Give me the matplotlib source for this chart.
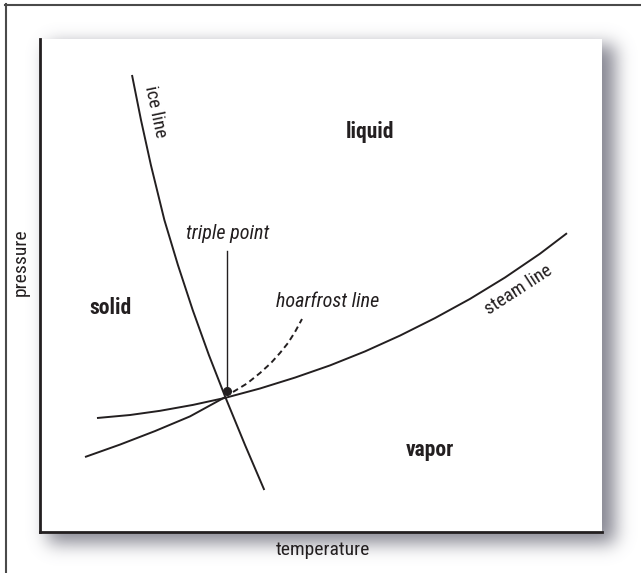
import numpy as np
import matplotlib
matplotlib.use("Agg")
import matplotlib.pyplot as plt
from matplotlib import font_manager

INK = "#231f20"

# phase boundaries (temperature, pressure in arbitrary units 0-100)
ice_t = [16.37, 17.97, 19.73, 22.13, 24.54, 27.17, 30.05, 32.97, 36.48, 39.91]
ice_p = [92.70, 83.57, 74.44, 63.29, 54.16, 45.03, 35.90, 27.38, 17.65, 8.52]

steam_t = [10.14, 16.01, 21.35, 27.22, 32.92, 39.15, 45.37, 51.60, 57.83, 64.06,
           70.28, 76.51, 82.74, 88.97, 93.77]
steam_p = [23.12, 23.73, 24.58, 25.78, 27.20, 29.11, 31.32, 33.79, 36.63, 39.84,
           43.39, 47.28, 51.62, 56.45, 60.61]

frost_t = [8.01, 14.23, 20.46, 26.69, 32.92]
frost_p = [15.21, 17.73, 20.47, 23.45, 27.34]

hoar_t = [34.34, 36.83, 39.15, 41.10, 42.70, 44.13, 45.37, 46.62]
hoar_p = [28.40, 30.12, 32.25, 34.28, 36.31, 38.34, 40.57, 43.20]

triple_t, triple_p = 33.3, 28.6
triple_label_p = 57.0

# pick a narrow sans if one is installed
installed = {f.name for f in font_manager.fontManager.ttflist}
narrow = [n for n in ("Roboto Condensed", "Liberation Sans Narrow",
                      "DejaVu Sans Condensed", "Open Sans Condensed")
          if n in installed]
FONT = narrow[:1] + ["DejaVu Sans"]

W, H, DPI = 641, 573, 100
fig = plt.figure(figsize=(W / DPI, H / DPI), dpi=DPI)

# background layer: frame lines and drop shadow behind the plot box
bg = fig.add_axes([0, 0, 1, 1])
bg.set_xlim(0, W)
bg.set_ylim(H, 0)
bg.axis("off")

box = (40, 39, 602, 532)  # left, top, right, bottom in pixels
yy, xx = np.mgrid[0:H, 0:W]
mask = ((xx >= box[0] + 8) & (xx <= box[2] + 12) &
        (yy >= box[1] + 6) & (yy <= box[3] + 10)).astype(float)
sigma = 9.0
k = np.arange(-35, 36)
g = np.exp(-k**2 / (2 * sigma**2))
g /= g.sum()
blur = np.apply_along_axis(lambda r: np.convolve(r, g, mode="same"), 1, mask)
blur = np.apply_along_axis(lambda c: np.convolve(c, g, mode="same"), 0, blur)
shadow = np.zeros((H, W, 4))
shadow[..., 0] = 0.46
shadow[..., 1] = 0.46
shadow[..., 2] = 0.51
shadow[..., 3] = blur * 0.88
bg.imshow(shadow, extent=(0, W, H, 0), interpolation="bilinear", zorder=0)

bg.plot([5, W], [4.5, 4.5], color="#4a4a4a", lw=1.5, zorder=2)
bg.plot([5.5, 5.5], [4, H], color="#4a4a4a", lw=1.5, zorder=2)

bg.text(323, 550, "temperature", family=FONT, fontsize=14, color=INK,
        ha="center", va="center")
bg.text(21, 262, "pressure", family=FONT, fontsize=14, color=INK,
        ha="center", va="center", rotation=90)

# main plot box
ax = fig.add_axes([box[0] / W, 1 - box[3] / H,
                   (box[2] - box[0]) / W, (box[3] - box[1]) / H])
ax.set_facecolor("white")
ax.set_xlim(0, 100)
ax.set_ylim(0, 100)
for side in ("top", "right"):
    ax.spines[side].set_visible(False)
for side in ("left", "bottom"):
    ax.spines[side].set_linewidth(2.0)
    ax.spines[side].set_color(INK)
ax.set_xticks([])
ax.set_yticks([])

lw = 1.4
ax.plot(ice_t, ice_p, color=INK, lw=lw, solid_capstyle="butt", solid_joinstyle="round")
ax.plot(steam_t, steam_p, color=INK, lw=lw, solid_capstyle="butt", solid_joinstyle="round")
ax.plot(frost_t, frost_p, color=INK, lw=lw, solid_capstyle="butt", solid_joinstyle="round")
ax.plot(hoar_t, hoar_p, color=INK, lw=lw, dashes=(3, 2))
ax.plot([triple_t, triple_t], [triple_p, triple_label_p], color=INK, lw=1.0)
ax.plot([triple_t], [triple_p], "o", color=INK, ms=5.5)

ax.text(triple_t, 60.6, "triple point", family=FONT, fontsize=14.5, style="italic",
        color=INK, ha="center", va="center")
ax.text(51.1, 46.7, "hoarfrost line", family=FONT, fontsize=14.5, style="italic",
        color=INK, ha="center", va="center")
ax.text(20.6, 85.2, "ice line", family=FONT, fontsize=13.5, color=INK,
        ha="center", va="center", rotation=-78, rotation_mode="anchor")
ax.text(85.1, 49.1, "steam line", family=FONT, fontsize=13.5, color=INK,
        ha="center", va="center", rotation=33, rotation_mode="anchor")
ax.text(58.7, 81.1, "liquid", family=FONT, fontsize=15.5, weight="bold",
        color=INK, ha="center", va="center")
ax.text(12.5, 45.4, "solid", family=FONT, fontsize=15.5, weight="bold",
        color=INK, ha="center", va="center")
ax.text(69.4, 16.6, "vapor", family=FONT, fontsize=15.5, weight="bold",
        color=INK, ha="center", va="center")

fig.savefig("out.png", dpi=DPI)
